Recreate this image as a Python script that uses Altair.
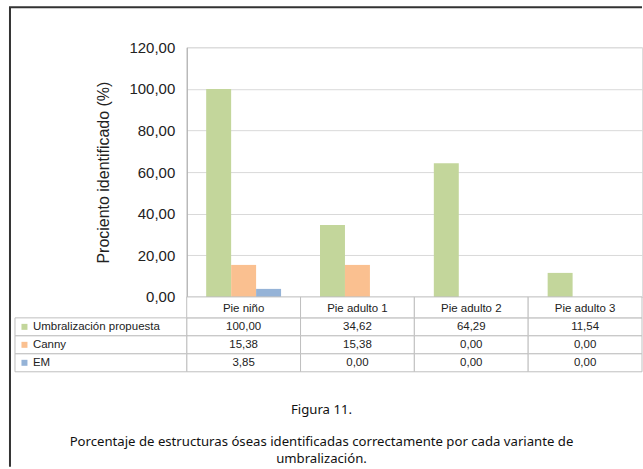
import altair as alt
import pandas as pd

categories = ["Pie niño", "Pie adulto 1", "Pie adulto 2", "Pie adulto 3"]
series = ["Umbralización propuesta", "Canny", "EM"]
umbral = [100.00, 34.62, 64.29, 11.54]
canny = [15.38, 15.38, 0.00, 0.00]
em = [3.85, 0.00, 0.00, 0.00]
colors = ["#c3d69b", "#fac090", "#95b3d7"]
y_ticks = [0, 20, 40, 60, 80, 100, 120]
y_title = "Prociento identificado (%)"
caption_title = "Figura 11."
caption_line1 = "Porcentaje de estructuras óseas identificadas correctamente por cada variante de"
caption_line2 = "umbralización."

rows = []
for s, vals in zip(series, [umbral, canny, em]):
    for c, v in zip(categories, vals):
        rows.append({"categoria": c, "serie": s, "valor": v})
df = pd.DataFrame(rows)
df_hdr = pd.DataFrame({"categoria": categories, "fila": ["header"] * len(categories)})
df_lbl = pd.DataFrame({"serie": series})
one = pd.DataFrame({"a": [0]})

FONT = "Liberation Sans"
TXT = "#222222"
LINE = "#bfbfbf"
fmt = "replace(format(datum.valor, '.2f'), '.', ',')"

x_scale = alt.Scale(domain=categories, paddingInner=0, paddingOuter=0)
x_enc = alt.X("categoria:N", sort=categories, scale=x_scale, axis=None)
color_enc = alt.Color("serie:N", scale=alt.Scale(domain=series, range=colors), legend=None)
row_y = alt.Y("serie:N", sort=series,
              scale=alt.Scale(domain=series, range=[271, 325], paddingInner=0, paddingOuter=0),
              axis=None)
hdr_y = alt.Y("fila:N", scale=alt.Scale(domain=["header"], range=[250, 271], paddingInner=0, paddingOuter=0),
              axis=None)

bars = alt.Chart(df).mark_bar().encode(
    x=x_enc,
    xOffset=alt.XOffset("serie:N", sort=series,
                        scale=alt.Scale(domain=series, paddingInner=0, paddingOuter=0.78)),
    y=alt.Y("valor:Q", scale=alt.Scale(domain=[0, 120], nice=False),
            axis=alt.Axis(values=y_ticks, labelExpr="replace(format(datum.value, '.2f'), '.', ',')",
                          title=y_title, grid=True, gridColor="#d9d9d9", ticks=False,
                          domainColor="#a6a6a6", labelFont=FONT, labelFontSize=15,
                          labelColor=TXT, labelPadding=12, titleFont=FONT, titleFontSize=16,
                          titleFontWeight="normal", titleColor=TXT, titlePadding=17)),
    color=color_enc,
)

cells = alt.Chart(df).mark_rect(fill="white", stroke=LINE, strokeWidth=1).encode(x=x_enc, y=row_y)
hdr_cells = alt.Chart(df_hdr).mark_rect(fill="white", stroke=LINE, strokeWidth=1).encode(x=x_enc, y=hdr_y)
lbl_cells = alt.Chart(df_lbl).mark_rect(fill="white", stroke=LINE, strokeWidth=1).encode(
    x=alt.value(-172), x2=alt.value(0), y=row_y)

hdr_text = alt.Chart(df_hdr).mark_text(font=FONT, fontSize=11.5, color=TXT, baseline="middle", dy=2).encode(
    x=x_enc, y=hdr_y, text="categoria:N")
val_text = alt.Chart(df).transform_calculate(etiqueta=fmt).mark_text(
    font=FONT, fontSize=11.5, color=TXT, baseline="middle").encode(x=x_enc, y=row_y, text="etiqueta:N")
lbl_text = alt.Chart(df_lbl).mark_text(font=FONT, fontSize=11.5, color=TXT, align="left",
                                       baseline="middle").encode(x=alt.value(-154), y=row_y, text="serie:N")
squares = alt.Chart(df_lbl).mark_square(size=36, opacity=1).encode(
    x=alt.value(-162.5), y=row_y, color=color_enc)

border_left = alt.Chart(one).mark_rule(color="#333333", strokeWidth=2).encode(
    x=alt.value(-177), y=alt.value(-40), y2=alt.value(420))
border_top = alt.Chart(one).mark_rule(color="#333333", strokeWidth=2).encode(
    x=alt.value(-178), x2=alt.value(456), y=alt.value(-40))

def caption(text, ypos):
    return alt.Chart(pd.DataFrame({"t": [text]})).mark_text(
        font="Noto Sans", fontSize=13.2, color="#111111", align="center", baseline="middle").encode(
        text="t:N", x=alt.value(135), y=alt.value(ypos))

chart = alt.layer(
    bars, cells, hdr_cells, lbl_cells, hdr_text, val_text, lbl_text, squares,
    border_left, border_top,
    caption(caption_title, 363), caption(caption_line1, 395), caption(caption_line2, 412),
).resolve_scale(y="independent").properties(
    width=456, height=250,
    padding={"left": 8, "top": 6, "right": 0, "bottom": 0},
).configure_view(strokeWidth=0).configure(background="white")

chart.save("out.html", embed_options={"renderer": "svg", "actions": False})
